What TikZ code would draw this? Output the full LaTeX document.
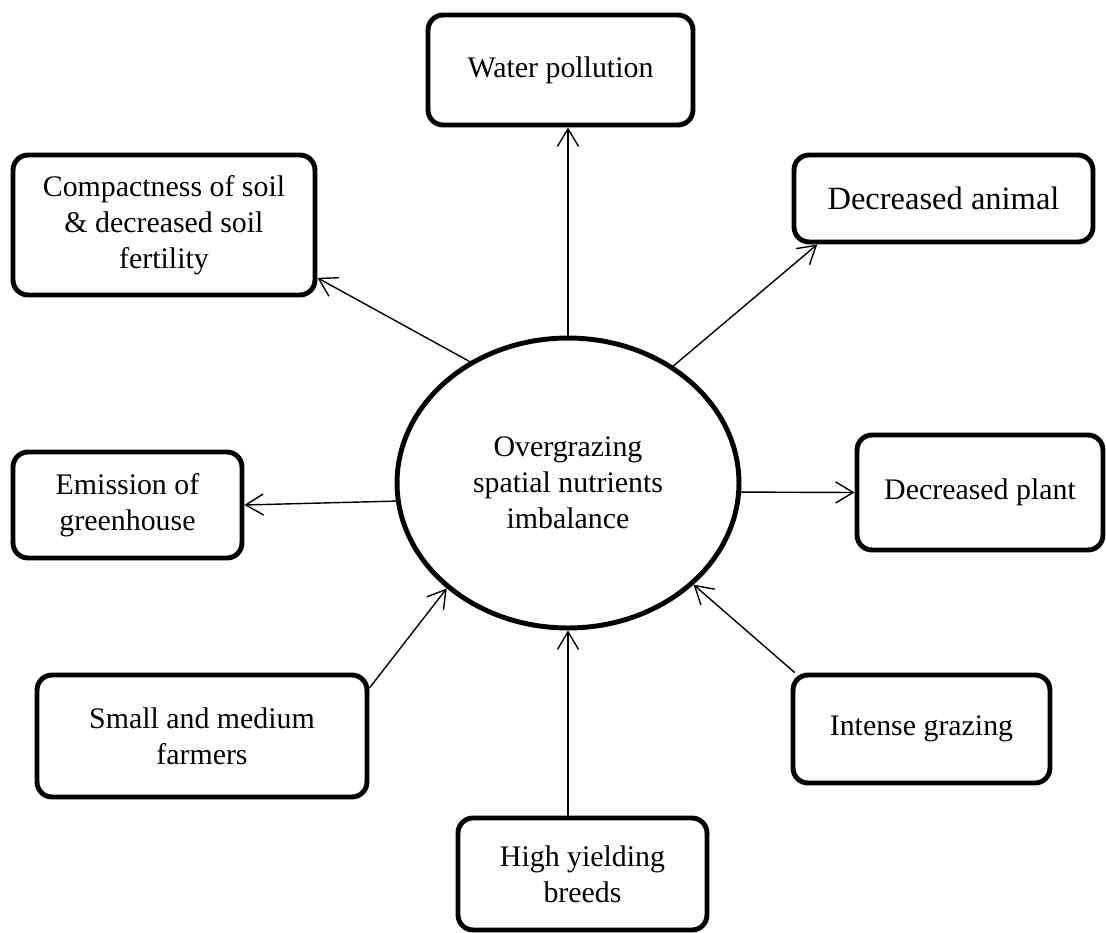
\documentclass[tikz,border=0pt]{standalone}
\usepackage{fontspec}
\setmainfont{Liberation Serif}
\usetikzlibrary{arrows.meta,shapes.geometric}

\begin{document}
\begin{tikzpicture}[x=0.02cm,y=-0.02cm,->,>={Straight Barb[length=10pt,width=12pt]},line width=0.8pt]
  \tikzstyle{every node}=[font=\fontsize{17}{20.5}\selectfont,align=center]
  \tikzstyle{box}=[draw,rounded corners=0.3cm,line width=2.8pt]
  \tikzstyle{hub}=[draw,ellipse,line width=2.8pt,inner sep=0pt,minimum width=6.84cm,minimum height=5.8cm]

  \useasboundingbox (0,0) rectangle (1106,933);

  \node[hub] (ov)      at (568,483)   {Overgrazing\\spatial nutrients\\imbalance};
  \node[box,minimum width=5.3cm,minimum height=2.2cm]   (water)   at (560.5,70)  {Water pollution};
  \node[box,minimum width=6.04cm,minimum height=2.8cm]  (comp)    at (164,225)   {Compactness of soil\\\& decreased soil\\fertility};
  \node[box,minimum width=5.98cm,minimum height=1.74cm,font=\fontsize{18.5}{22}\selectfont] (animal) at (943.5,198.5) {Decreased animal};
  \node[box,minimum width=4.58cm,minimum height=2.12cm] (emis)    at (127.5,505) {Emission of\\greenhouse};
  \node[box,minimum width=4.92cm,minimum height=2.3cm]  (plant)   at (980,492.5) {Decreased plant};
  \node[box,minimum width=6.6cm,minimum height=2.44cm]  (small)   at (202,736)   {Small and medium\\farmers};
  \node[box,minimum width=5.14cm,minimum height=2.16cm] (intense) at (921.5,729) {Intense grazing};
  \node[box,minimum width=4.98cm,minimum height=2.24cm] (high)    at (582.5,874) {High yielding\\breeds};

  \path (ov.north)   edge (ov.north |- water.south)
        (ov.129)     edge (comp.-19)
        (ov.48)      edge (animal.200)
        (ov.186)     edge (emis.east)
        (ov.-3)      edge (plant.west)
        (small.16)   edge (ov.221)
        (intense.156) edge (ov.321)
        (high.north -| ov.south) edge (ov.south);

\end{tikzpicture}
\end{document}
